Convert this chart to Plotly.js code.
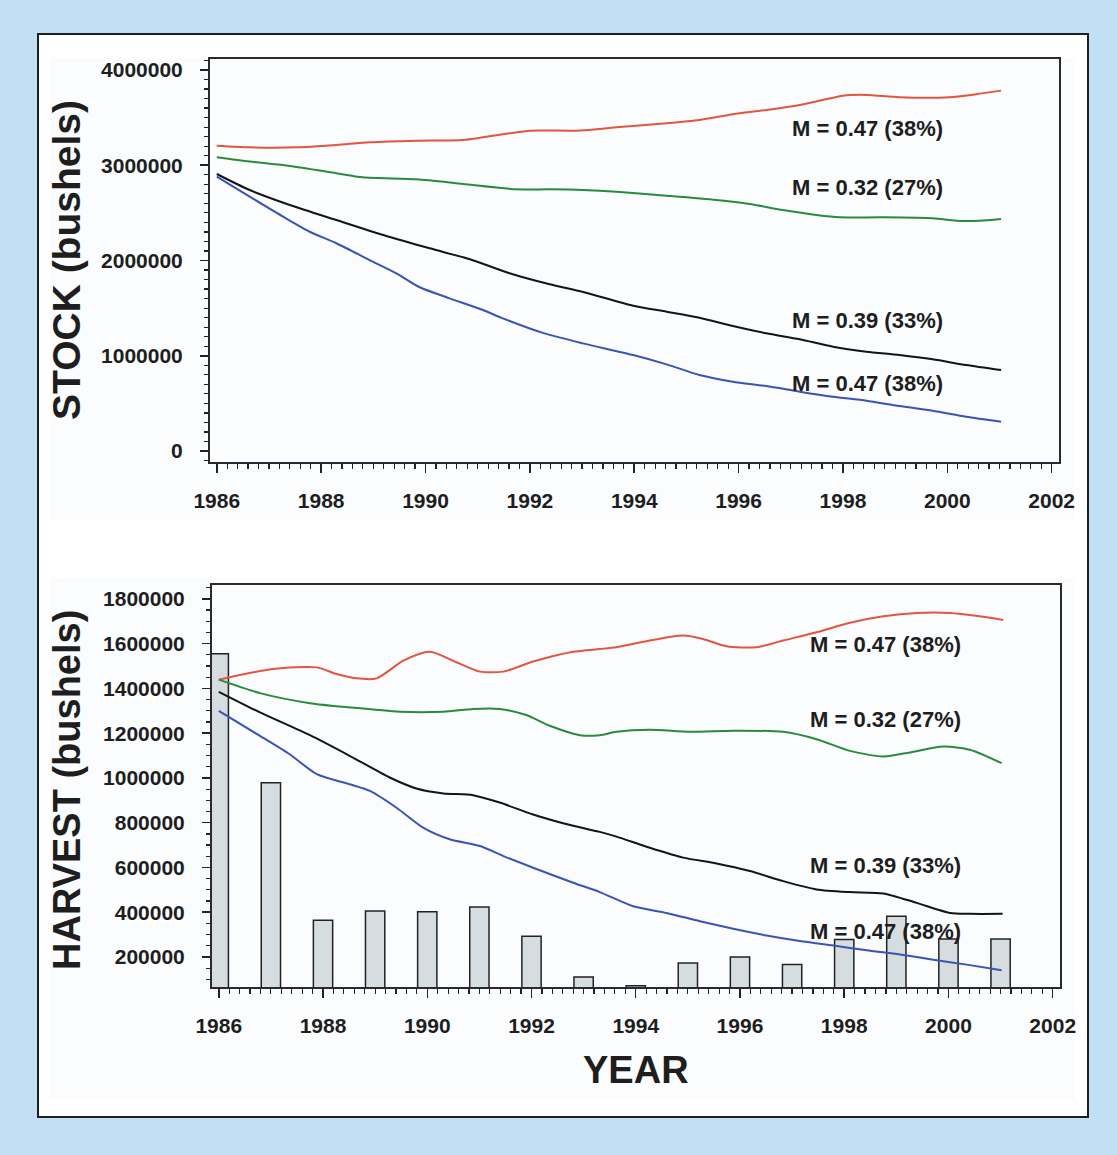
<!DOCTYPE html>
<html>
<head>
<meta charset="utf-8">
<script src="https://cdn.plot.ly/plotly-3.0.1.min.js"></script>
<style>html,body{margin:0;padding:0;background:#c2e0f4;}#chart{width:1117px;height:1155px;}</style>
</head>
<body>
<div id="chart"></div>
<script>
// ---- STOCK (top panel) ----
const stockRedX = [1986, 1986.63, 1987.53, 1988.29, 1988.93, 1989.83, 1990.72, 1991.1, 1991.61, 1992.0, 1992.89, 1993.34, 1993.66, 1994.62, 1995.25, 1995.89, 1996.53, 1997.17, 1997.61, 1998.0, 1998.45, 1999.08, 2000.04, 2000.55, 2001.03];
const stockRedY = [3205000, 3188000, 3188000, 3213000, 3241000, 3258000, 3265000, 3293000, 3335000, 3363000, 3363000, 3381000, 3398000, 3440000, 3475000, 3535000, 3580000, 3633000, 3685000, 3730000, 3738000, 3713000, 3713000, 3745000, 3783000];

const stockGreenX = [1986, 1986.63, 1987.4, 1988.29, 1988.8, 1989.83, 1990.72, 1991.74, 1992.38, 1993.02, 1993.66, 1994.62, 1995.57, 1996.21, 1996.85, 1997.49, 1997.94, 1998.76, 1999.72, 2000.17, 2000.62, 2001.03];
const stockGreenY = [3083000, 3038000, 2992000, 2916000, 2873000, 2852000, 2803000, 2747000, 2747000, 2740000, 2722000, 2680000, 2635000, 2593000, 2530000, 2478000, 2453000, 2453000, 2443000, 2418000, 2418000, 2436000];

const stockBlackX = [1986, 1986.63, 1987.4, 1988.29, 1989.19, 1990.08, 1990.85, 1991.61, 1992.38, 1993.02, 1993.98, 1994.62, 1995.25, 1995.89, 1996.53, 1997.17, 1997.81, 1998.45, 1999.08, 1999.72, 2000.36, 2001.03];
const stockBlackY = [2908000, 2740000, 2583000, 2425000, 2268000, 2128000, 2013000, 1866000, 1750000, 1670000, 1525000, 1463000, 1400000, 1312000, 1236000, 1173000, 1095000, 1043000, 1008000, 963000, 903000, 850000];

const stockBlueX = [1986, 1986.63, 1987.27, 1987.78, 1988.29, 1988.93, 1989.44, 1989.89, 1990.46, 1991.1, 1991.48, 1992.25, 1993.02, 1993.98, 1994.62, 1995.25, 1995.89, 1996.53, 1997.17, 1997.81, 1998.45, 1999.08, 1999.72, 2000.36, 2001.03];
const stockBlueY = [2880000, 2670000, 2460000, 2302000, 2181000, 2005000, 1866000, 1719000, 1603000, 1480000, 1393000, 1240000, 1130000, 1008000, 910000, 798000, 728000, 682000, 623000, 570000, 528000, 472000, 423000, 360000, 308000];

// ---- HARVEST (bottom panel) ----
const harvestYears = [1986, 1987, 1988, 1989, 1990, 1991, 1992, 1993, 1994, 1995, 1996, 1997, 1998, 1999, 2000, 2001];
const harvestActual = [1555000, 979000, 364000, 405000, 402000, 423000, 293000, 111000, 72000, 173000, 200000, 166000, 278000, 382000, 280000, 280000];

const harvRedX = [1986, 1987.04, 1987.88, 1988.26, 1988.64, 1989.03, 1989.54, 1990.05, 1990.56, 1991.01, 1991.46, 1992.03, 1992.8, 1993.31, 1993.63, 1994.27, 1994.91, 1995.29, 1995.74, 1996.32, 1996.83, 1997.47, 1998.11, 1998.75, 1999.39, 2000.03, 2000.6, 2001.05];
const harvRedY = [1439000, 1487000, 1494000, 1464000, 1445000, 1445000, 1524000, 1564000, 1517000, 1475000, 1475000, 1520000, 1564000, 1576000, 1584000, 1614000, 1636000, 1621000, 1588000, 1584000, 1614000, 1651000, 1693000, 1722000, 1737000, 1737000, 1722000, 1706000];

const harvGreenX = [1986, 1986.79, 1987.75, 1988.51, 1989.47, 1990.31, 1990.88, 1991.39, 1991.9, 1992.35, 1992.93, 1993.31, 1993.63, 1994.27, 1995.04, 1995.87, 1996.83, 1997.47, 1998.11, 1998.75, 1999.26, 1999.9, 2000.41, 2001.02];
const harvGreenY = [1439000, 1379000, 1334000, 1315000, 1296000, 1296000, 1308000, 1308000, 1281000, 1233000, 1191000, 1191000, 1206000, 1215000, 1206000, 1211000, 1206000, 1173000, 1121000, 1096000, 1114000, 1140000, 1126000, 1066000];

const harvBlackX = [1986, 1986.79, 1987.75, 1988.51, 1989.28, 1989.79, 1990.31, 1990.88, 1991.39, 1992.03, 1992.8, 1993.31, 1993.63, 1994.27, 1994.91, 1995.55, 1996.19, 1996.83, 1997.47, 1998.11, 1998.75, 1999.39, 2000.03, 2000.41, 2001.04];
const harvBlackY = [1385000, 1293000, 1191000, 1099000, 1002000, 953000, 931000, 923000, 890000, 837000, 786000, 759000, 738000, 688000, 644000, 618000, 584000, 539000, 502000, 490000, 484000, 442000, 397000, 393000, 393000];

const harvBlueX = [1986, 1986.79, 1987.36, 1987.88, 1988.51, 1988.9, 1989.41, 1989.92, 1990.43, 1991.01, 1991.46, 1992.03, 1992.8, 1993.31, 1993.95, 1994.59, 1995.23, 1995.87, 1996.51, 1997.15, 1997.79, 1998.43, 1999.07, 1999.71, 2000.35, 2001.02];
const harvBlueY = [1300000, 1188000, 1106000, 1017000, 972000, 942000, 867000, 778000, 726000, 696000, 651000, 599000, 532000, 490000, 427000, 397000, 360000, 326000, 296000, 271000, 251000, 230000, 211000, 188000, 166000, 141000];

// labels
const curveLabels = ["M = 0.47 (38%)", "M = 0.32 (27%)", "M = 0.39 (33%)", "M = 0.47 (38%)"];
const stockLabelY = [3381000, 2761000, 1375000, 714000];
const harvestLabelY = [1594000, 1259000, 607000, 316000];
const xTickYears = [1986, 1988, 1990, 1992, 1994, 1996, 1998, 2000, 2002];

// ---- drawing ----
const W = 1117, H = 1155;
const px = v => v / W;
const py = v => 1 - v / H;

const RED = '#e2553f', GREEN = '#2b8a3c', BLACK = '#141414', BLUE = '#3a54b4';
const lineTrace = (x, y, color, xa, ya) => ({
  type: 'scatter', mode: 'lines', x: x, y: y, xaxis: xa, yaxis: ya,
  line: {color: color, width: 2, shape: 'spline', smoothing: 0.7}, hoverinfo: 'skip', showlegend: false
});

const traces = [
  {type: 'bar', x: harvestYears, y: harvestActual, xaxis: 'x2', yaxis: 'y2', width: 0.37,
   marker: {color: '#d6dde1', line: {color: '#222', width: 1.5}}, showlegend: false},
  lineTrace(stockRedX, stockRedY, RED, 'x', 'y'),
  lineTrace(stockGreenX, stockGreenY, GREEN, 'x', 'y'),
  lineTrace(stockBlackX, stockBlackY, BLACK, 'x', 'y'),
  lineTrace(stockBlueX, stockBlueY, BLUE, 'x', 'y'),
  lineTrace(harvRedX, harvRedY, RED, 'x2', 'y2'),
  lineTrace(harvGreenX, harvGreenY, GREEN, 'x2', 'y2'),
  lineTrace(harvBlackX, harvBlackY, BLACK, 'x2', 'y2'),
  lineTrace(harvBlueX, harvBlueY, BLUE, 'x2', 'y2')
];

const FONT = 'Liberation Sans, Arial, Helvetica, sans-serif';
const tickFont = {family: FONT, size: 21, color: '#1e1e1e', weight: 'bold'};

const xAxisBase = (domain, anchor) => ({
  domain: domain, anchor: anchor, range: [1985.87, 2002.14],
  tickmode: 'array', tickvals: xTickYears, ticktext: xTickYears.map(String),
  ticks: 'outside', ticklen: 9, tickwidth: 1.5, tickcolor: '#222',
  minor: {ticks: 'outside', dtick: 0.2, tick0: 1986, ticklen: 5, tickwidth: 1.2, tickcolor: '#222'},
  showline: true, linecolor: '#2a2a2a', linewidth: 2, mirror: true,
  showgrid: false, zeroline: false, tickfont: tickFont, ticklabelstandoff: 10
});
const yAxisBase = (domain, anchor, range, dtick, minorDtick) => ({
  domain: domain, anchor: anchor, range: range,
  tickmode: 'linear', tick0: 0, dtick: dtick, tickformat: 'd',
  ticks: 'outside', ticklen: 8, tickwidth: 1.5, tickcolor: '#222',
  minor: {ticks: 'outside', dtick: minorDtick, tick0: 0, ticklen: 4, tickwidth: 1.2, tickcolor: '#222'},
  showline: true, linecolor: '#2a2a2a', linewidth: 2, mirror: true,
  showgrid: false, zeroline: false, tickfont: tickFont, ticklabelstandoff: 13
});

const annots = [];
curveLabels.forEach((t, i) => {
  annots.push({xref: 'x', yref: 'y', x: 1996.98, y: stockLabelY[i], xanchor: 'left', yanchor: 'middle',
    text: t, showarrow: false, font: {family: FONT, size: 22, color: '#1e1e1e', weight: 'bold'}});
  annots.push({xref: 'x2', yref: 'y2', x: 1997.3, y: harvestLabelY[i], xanchor: 'left', yanchor: 'middle',
    text: t, showarrow: false, font: {family: FONT, size: 22, color: '#1e1e1e', weight: 'bold'}});
});
annots.push({xref: 'paper', yref: 'paper', x: px(66), y: py(260), textangle: -90, xanchor: 'center', yanchor: 'middle',
  text: 'STOCK (bushels)', showarrow: false, font: {family: FONT, size: 39, color: '#1e1e1e', weight: 'bold'}});
annots.push({xref: 'paper', yref: 'paper', x: px(67), y: py(790), textangle: -90, xanchor: 'center', yanchor: 'middle',
  text: 'HARVEST (bushels)', showarrow: false, font: {family: FONT, size: 38, color: '#1e1e1e', weight: 'bold'}});
annots.push({xref: 'paper', yref: 'paper', x: px(636), y: py(1070), xanchor: 'center', yanchor: 'middle',
  text: 'YEAR', showarrow: false, font: {family: FONT, size: 38, color: '#1e1e1e', weight: 'bold'}});

const layout = {
  width: W, height: H,
  margin: {l: 0, r: 0, t: 0, b: 0},
  paper_bgcolor: '#c2e0f4', plot_bgcolor: '#f9fbfd',
  showlegend: false, bargap: 0,
  xaxis: xAxisBase([px(210), px(1059)], 'y'),
  yaxis: yAxisBase([py(462), py(59)], 'x', [-115000, 4115000], 1000000, 100000),
  xaxis2: xAxisBase([px(212), px(1060)], 'y2'),
  yaxis2: yAxisBase([py(987), py(585)], 'x2', [66000, 1862000], 200000, 50000),
  shapes: [
    {type: 'rect', xref: 'paper', yref: 'paper', x0: px(38), x1: px(1088), y0: py(1117), y1: py(34),
     fillcolor: '#ffffff', line: {color: '#1e1e1e', width: 2}, layer: 'below'},
    {type: 'rect', xref: 'paper', yref: 'paper', x0: px(50), x1: px(1075), y0: py(520), y1: py(58),
     fillcolor: '#fafcfd', line: {width: 0}, layer: 'below'},
    {type: 'rect', xref: 'paper', yref: 'paper', x0: px(50), x1: px(1075), y0: py(1100), y1: py(578),
     fillcolor: '#fafcfd', line: {width: 0}, layer: 'below'}
  ],
  annotations: annots
};

Plotly.newPlot('chart', traces, layout, {staticPlot: true, displayModeBar: false});
</script>
</body>
</html>
